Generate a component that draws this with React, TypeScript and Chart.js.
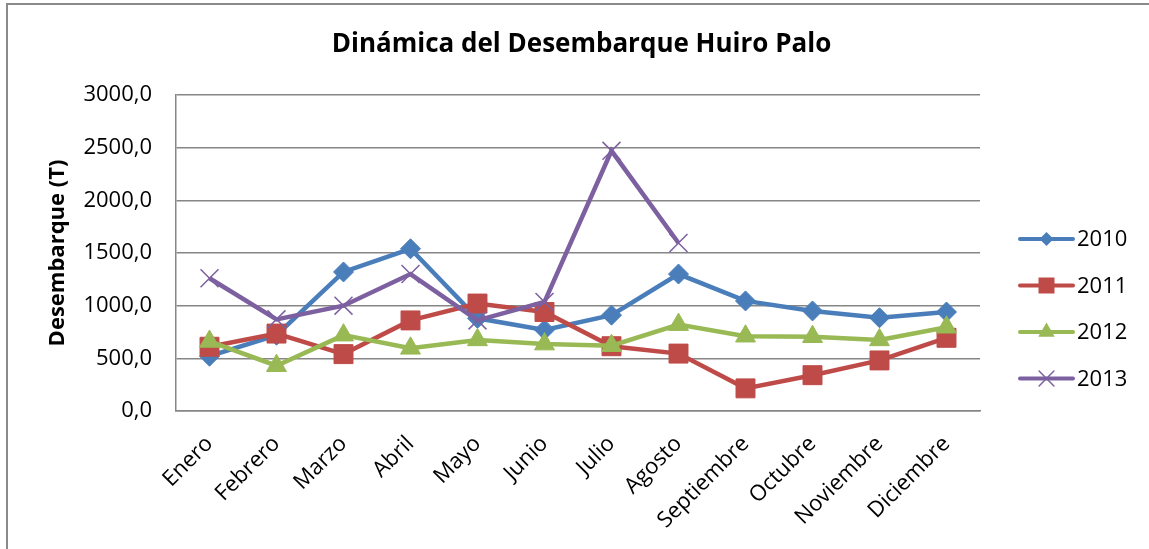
import React, { useEffect, useRef } from "react";
import { Chart, registerables } from "chart.js";

Chart.register(...registerables);

const TITLE = "Dinámica del Desembarque Huiro Palo";
const Y_TITLE = "Desembarque (T)";
const MONTHS = [
  "Enero", "Febrero", "Marzo", "Abril", "Mayo", "Junio",
  "Julio", "Agosto", "Septiembre", "Octubre", "Noviembre", "Diciembre",
];
const SERIES_LABELS = ["2010", "2011", "2012", "2013"];
const VALUES_2010 = [520, 720, 1320, 1540, 880, 770, 910, 1300, 1045, 950, 885, 940];
const VALUES_2011 = [610, 735, 540, 860, 1020, 940, 615, 545, 215, 340, 480, 695];
const VALUES_2012 = [660, 430, 720, 595, 675, 635, 620, 820, 710, 705, 675, 795];
const VALUES_2013 = [1260, 870, 1000, 1300, 860, 1035, 2470, 1595, null, null, null, null];
const Y_TICKS = [0, 500, 1000, 1500, 2000, 2500, 3000];

const COLORS = ["#4A7EBB", "#BE4B48", "#98B954", "#7D60A0"];
const POINT_STYLES = ["rectRot", "rect", "triangle", "crossRot"];
const POINT_RADII = [10, 13.4, 11.5, 12.7];
const LEGEND_MARKER_RADII = [7, 11.3, 9.5, 10.5];

const FONT = '"Open Sans", "DejaVu Sans", sans-serif';
const GRID = "#868686";

function drawMarker(ctx: CanvasRenderingContext2D, style: string, x: number, y: number, r: number, color: string) {
  ctx.save();
  ctx.fillStyle = color;
  ctx.strokeStyle = color;
  ctx.beginPath();
  if (style === "rectRot") {
    ctx.moveTo(x, y - r);
    ctx.lineTo(x + r, y);
    ctx.lineTo(x, y + r);
    ctx.lineTo(x - r, y);
    ctx.closePath();
    ctx.fill();
  } else if (style === "rect") {
    const s = r * Math.SQRT1_2;
    ctx.rect(x - s, y - s, 2 * s, 2 * s);
    ctx.fill();
  } else if (style === "triangle") {
    ctx.moveTo(x, y - r);
    ctx.lineTo(x + 0.866 * r, y + 0.5 * r);
    ctx.lineTo(x - 0.866 * r, y + 0.5 * r);
    ctx.closePath();
    ctx.fill();
  } else {
    const o = r * Math.SQRT1_2;
    ctx.lineWidth = 1.5;
    ctx.moveTo(x - o, y - o);
    ctx.lineTo(x + o, y + o);
    ctx.moveTo(x - o, y + o);
    ctx.lineTo(x + o, y - o);
    ctx.stroke();
  }
  ctx.restore();
}

const sideLegend = {
  id: "sideLegend",
  afterDraw(chart: any) {
    const ctx: CanvasRenderingContext2D = chart.ctx;
    const area = chart.chartArea;
    const x0 = area.right + 40;
    const x1 = x0 + 53;
    const cx = (x0 + x1) / 2;
    const yStart = 239;
    const step = 46.5;
    ctx.save();
    SERIES_LABELS.forEach((label, i) => {
      const y = yStart + i * step;
      ctx.strokeStyle = COLORS[i];
      ctx.lineWidth = 4;
      ctx.lineCap = "round";
      ctx.beginPath();
      ctx.moveTo(x0, y);
      ctx.lineTo(x1, y);
      ctx.stroke();
      drawMarker(ctx, POINT_STYLES[i], cx, y, LEGEND_MARKER_RADII[i], COLORS[i]);
      ctx.fillStyle = "#000";
      ctx.font = `22px ${FONT}`;
      ctx.textAlign = "left";
      ctx.textBaseline = "middle";
      ctx.fillText(label, x1 + 4, y + 1);
    });
    ctx.restore();
  },
};

export default function App() {
  const canvasRef = useRef<HTMLCanvasElement | null>(null);

  useEffect(() => {
    if (!canvasRef.current) return;
    const seriesValues = [VALUES_2010, VALUES_2011, VALUES_2012, VALUES_2013];
    const chart = new Chart(canvasRef.current, {
      type: "line",
      data: {
        labels: MONTHS,
        datasets: seriesValues.map((vals, i) => ({
          label: SERIES_LABELS[i],
          data: vals,
          yAxisID: "y",
          borderColor: COLORS[i],
          backgroundColor: COLORS[i],
          borderWidth: 4.5,
          tension: 0,
          spanGaps: false,
          pointStyle: POINT_STYLES[i] as any,
          pointRadius: POINT_RADII[i],
          pointBackgroundColor: COLORS[i],
          pointBorderColor: COLORS[i],
          pointBorderWidth: POINT_STYLES[i] === "crossRot" ? 1.5 : 1,
          order: 3 - i,
        })),
      },
      options: {
        animation: false,
        responsive: true,
        maintainAspectRatio: false,
        layout: { padding: { left: 14, right: 0, top: 0, bottom: 0 } },
        plugins: {
          legend: { display: false },
          tooltip: { enabled: false },
          title: {
            display: true,
            text: TITLE,
            color: "#000",
            font: { family: FONT, size: 26, weight: "bold" },
            padding: { top: 29.4, bottom: 34.4 },
          },
        },
        scales: {
          x: {
            type: "category",
            offset: true,
            grid: { display: true, drawOnChartArea: false, drawTicks: false, offset: true },
            border: { display: true, color: GRID, width: 1.5 },
            ticks: {
              autoSkip: false,
              minRotation: 45,
              maxRotation: 45,
              padding: 20,
              color: "#000",
              font: { family: FONT, size: 22 },
            },
            afterFit: (s: any) => {
              s.height = 138;
            },
          },
          y: {
            type: "linear",
            position: "left",
            min: 0,
            max: 3000,
            afterBuildTicks: (s: any) => {
              s.ticks = Y_TICKS.map((v) => ({ value: v }));
            },
            grid: { color: GRID, lineWidth: 1.5, drawTicks: false },
            border: { display: true, color: GRID, width: 1.5 },
            ticks: {
              padding: 24,
              color: "#000",
              font: { family: FONT, size: 22 },
              callback: (v: any) => Number(v).toFixed(1).replace(".", ","),
            },
            title: {
              display: true,
              text: Y_TITLE,
              color: "#000",
              font: { family: FONT, size: 22, weight: "bold" },
              padding: { top: 30.8, bottom: 0 },
            },
            afterFit: (s: any) => {
              s.width = 162;
            },
          },
          y2: {
            type: "linear",
            position: "right",
            display: true,
            grid: { display: false, drawTicks: false },
            border: { display: false },
            ticks: { display: false },
            afterFit: (s: any) => {
              s.width = 169;
            },
          },
        },
      },
      plugins: [sideLegend],
    });
    return () => chart.destroy();
  }, []);

  return (
    <div style={{ position: "absolute", left: 0, top: 0, width: 1149, height: 549, overflow: "hidden", background: "#fff" }}>
      <div
        style={{
          position: "absolute",
          left: 6,
          top: 3,
          width: 1200,
          height: 600,
          border: "2px solid #8a8a8a",
          boxSizing: "border-box",
        }}
      />
      <div style={{ position: "absolute", left: 0, top: 0, width: 1149, height: 549 }}>
        <canvas ref={canvasRef} />
      </div>
    </div>
  );
}
